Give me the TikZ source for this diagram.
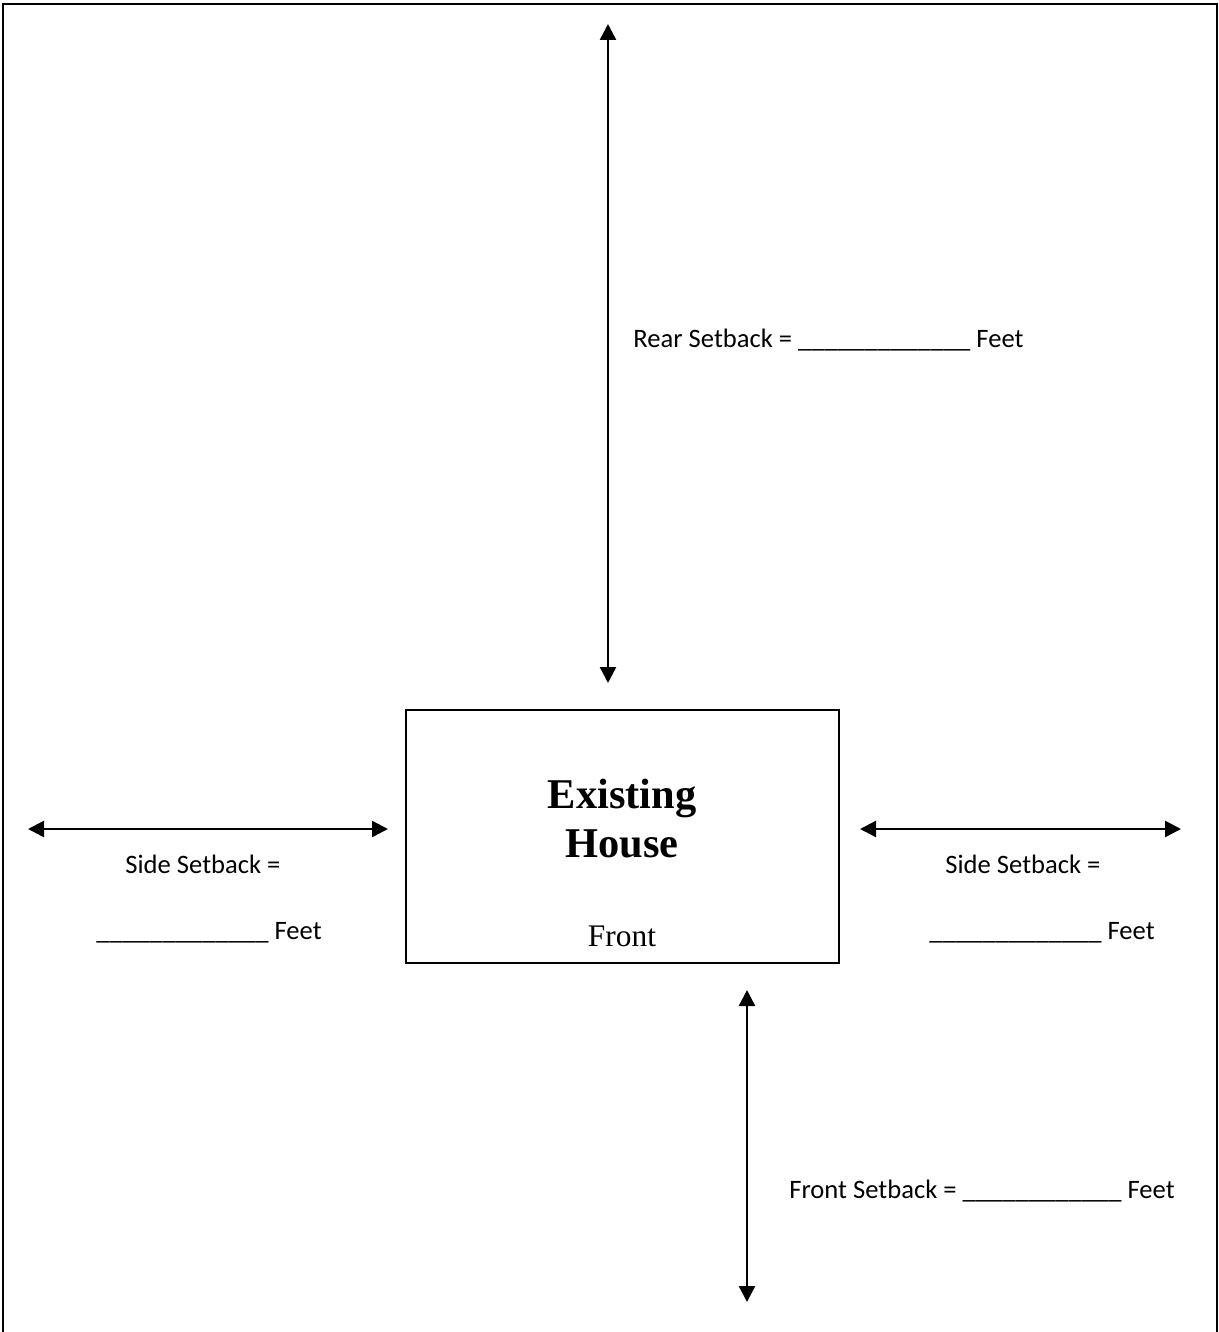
\documentclass[tikz,border=0pt]{standalone}
\usepackage{fontspec}
\setmainfont{Liberation Serif}
\newfontfamily\calibri{Carlito}
\usetikzlibrary{arrows.meta}

\begin{document}
\begin{tikzpicture}[x=0.5pt,y=-0.5pt,
	setback/.style={line width=1.2pt,{Triangle[length=8pt,width=8pt]}-{Triangle[length=8pt,width=8pt]}},
	housebox/.style={draw,line width=1pt,minimum width=216.5pt,minimum height=126.5pt,inner sep=0pt},
	lbl/.style={font=\calibri\fontsize{13.3}{16}\selectfont,inner sep=0pt,anchor=base west}]
			%%%%% START %%%%%
			\useasboundingbox (0, 0) rectangle (1219, 1332);
			\draw[line width = 1pt] (3, 1332) -- (3, 4) -- (1217, 4) -- (1217, 1332);
			
			\node[housebox] (house) at (622.5, 836.5) {};
			\node[font=\bfseries\fontsize{21.2}{24.5}\selectfont, inner sep=0pt, anchor=base] (existing) at (622, 808) {Existing};
			\node[font=\bfseries\fontsize{21.2}{24.5}\selectfont, inner sep=0pt, anchor=base] (housetxt) at (622, 857) {House};
			\node[font=\fontsize{15.7}{19}\selectfont, inner sep=0pt, anchor=base] (front) at (622, 946) {Front};
			
			\coordinate (rearA) at (608, 24);
			\coordinate (rearB) at (608, 683);
			\draw[setback] (rearA) -- (rearB);
			\node[lbl] (rear) at (633, 347) {Rear Setback = \_\_\_\_\_\_\_\_\_\_\_\_\_ Feet};
			
			\coordinate (leftA) at (28, 829);
			\coordinate (leftB) at (388, 829);
			\draw[setback] (leftA) -- (leftB);
			\node[lbl] (sideL) at (125, 873) {Side Setback =};
			\node[lbl] (feetL) at (96, 939) {\_\_\_\_\_\_\_\_\_\_\_\_\_ Feet};
			
			\coordinate (rightA) at (860, 829);
			\coordinate (rightB) at (1181, 829);
			\draw[setback] (rightA) -- (rightB);
			\node[lbl] (sideR) at (945, 873) {Side Setback =};
			\node[lbl] (feetR) at (929, 939) {\_\_\_\_\_\_\_\_\_\_\_\_\_ Feet};
			
			\coordinate (frontA) at (747, 990);
			\coordinate (frontB) at (747, 1302);
			\draw[setback] (frontA) -- (frontB);
			\node[lbl] (frontlbl) at (789, 1198) {Front Setback = \_\_\_\_\_\_\_\_\_\_\_\_ Feet};
			%%%%% END %%%%%
\end{tikzpicture}
\end{document}
